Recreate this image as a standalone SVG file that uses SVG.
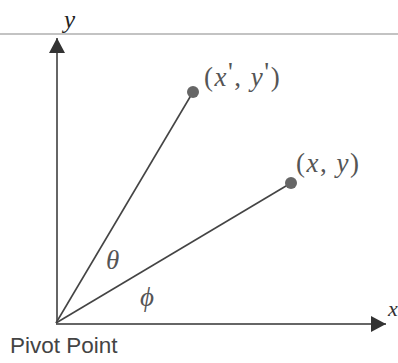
<svg xmlns="http://www.w3.org/2000/svg" width="398" height="363" viewBox="0 0 398 363">
<style>
.axis{stroke:#333;stroke-width:1.5;fill:none}
.ray{stroke:#444;stroke-width:1.6;fill:none}
.pt{fill:#666}
.math{font-family:"Liberation Serif",serif;font-size:27px;fill:#555}
.it{font-style:italic}
.lbl{font-family:"Liberation Sans",Arial,sans-serif;font-size:22.5px;fill:#444}
</style>
<defs>
<marker id="arr" markerWidth="16" markerHeight="16" refX="15" refY="8" orient="auto" markerUnits="userSpaceOnUse">
<path d="M0,0 L15,8 L0,16 Z" fill="#333"/>
</marker>
</defs>
<line x1="0" y1="34" x2="398" y2="34" stroke="#888" stroke-width="1.2"/>
<g id="connectors">
<line class="axis" x1="57" y1="323" x2="57" y2="38" marker-end="url(#arr)"/>
<line class="axis" x1="56" y1="324" x2="386" y2="324" marker-end="url(#arr)"/>
<line class="ray" x1="56" y1="323" x2="193" y2="92"/>
<line class="ray" x1="56" y1="323" x2="291" y2="183"/>
</g>
<g id="y-label"><text class="math it" x="64" y="28" style="fill:#222;font-size:25px">y</text></g>
<g id="x-label"><text class="math it" x="388" y="316" style="fill:#333;font-size:22px">x</text></g>
<g id="point-xy-prime">
<circle class="pt" cx="193" cy="92" r="6"/>
<text class="math" x="204" y="86" letter-spacing="1.5">(<tspan class="it">x</tspan><tspan dy="-5">'</tspan><tspan dy="5">, </tspan><tspan class="it">y</tspan><tspan dy="-5">'</tspan><tspan dy="5">)</tspan></text>
</g>
<g id="point-xy">
<circle class="pt" cx="291" cy="183" r="6"/>
<text class="math" x="296" y="172" letter-spacing="1.5">(<tspan class="it">x</tspan>, <tspan class="it">y</tspan>)</text>
</g>
<g id="theta"><text class="math it" x="106" y="269">θ</text></g>
<g id="phi"><text class="math it" x="140" y="306">ϕ</text></g>
<g id="pivot"><text class="lbl" x="10" y="353">Pivot Point</text></g>
</svg>
